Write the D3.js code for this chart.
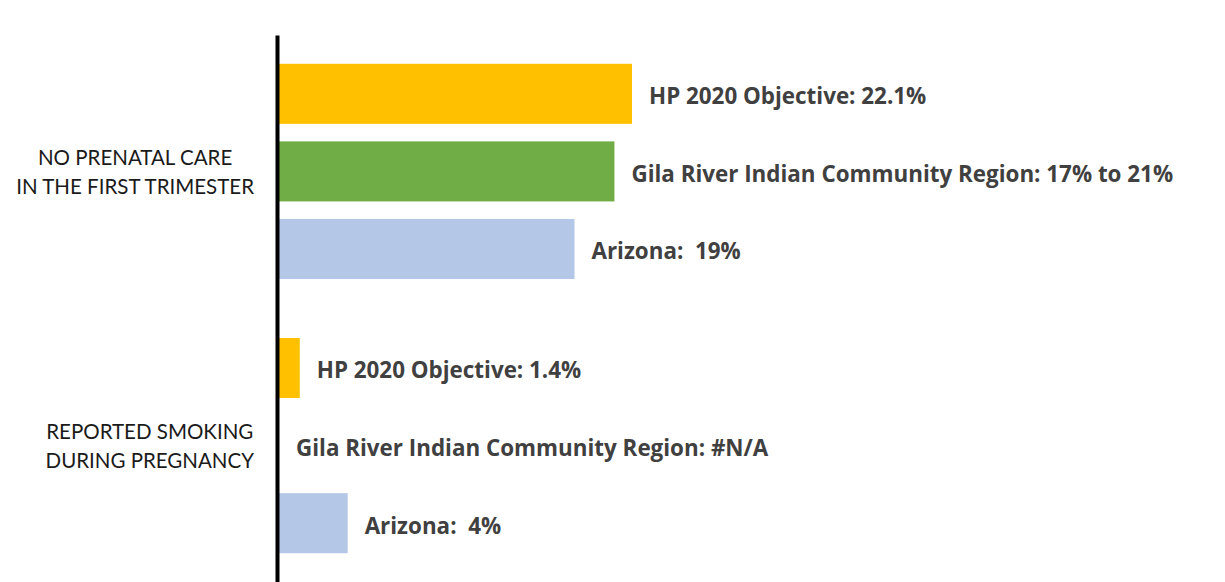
<!DOCTYPE html>
<html>
<head>
<meta charset="utf-8">
<script src="https://cdn.jsdelivr.net/npm/d3@7"></script>
<style>
  body { margin: 0; background: #fff; }
  text { white-space: pre; }
</style>
</head>
<body>
<div id="chart-area"></div>
<script>
var width = 1225;
var height = 582;

var categories = ["NO PRENATAL CARE\nIN THE FIRST TRIMESTER", "REPORTED SMOKING\nDURING PREGNANCY"];
var series = ["HP 2020 Objective", "Gila River Indian Community Region", "Arizona"];
var colors = ["#FFC000", "#70AD47", "#B4C7E7"];

// bar lengths (null = no bar)
var prenatalValues = [22.1, 21, 18.5];
var smokingValues = [1.3, null, 4.3];

// label texts as printed
var prenatalLabels = ["HP 2020 Objective: 22.1%", "Gila River Indian Community Region: 17% to 21%", "Arizona:  19%"];
var smokingLabels = ["HP 2020 Objective: 1.4%", "Gila River Indian Community Region: #N/A", "Arizona:  4%"];

var valuesByCat = [prenatalValues, smokingValues];
var labelsByCat = [prenatalLabels, smokingLabels];

var svg = d3.select("#chart-area").append("svg")
    .attr("width", width)
    .attr("height", height);

var y = d3.scaleBand()
    .domain(categories)
    .range([35, 582])
    .paddingInner(0.215)
    .paddingOuter(0.105);

var ySub = d3.scaleBand()
    .domain(series)
    .range([0, y.bandwidth()])
    .paddingInner(0.226)
    .paddingOuter(0);

var x = d3.scaleLinear()
    .domain([0, 22.1])
    .range([279, 632]);

var groups = svg.selectAll("g.group")
    .data(categories)
    .enter().append("g")
    .attr("class", "group")
    .attr("transform", (d) => "translate(0," + y(d) + ")");

groups.each(function(cat, ci) {
    var g = d3.select(this);
    var rows = series.map((s, i) => ({ s: s, v: valuesByCat[ci][i], label: labelsByCat[ci][i], c: colors[i] }));

    g.selectAll("rect")
        .data(rows.filter((d) => d.v !== null))
        .enter().append("rect")
        .attr("x", x(0))
        .attr("y", (d) => ySub(d.s))
        .attr("width", (d) => x(d.v) - x(0))
        .attr("height", ySub.bandwidth())
        .attr("fill", (d) => d.c);

    g.selectAll("text.val")
        .data(rows)
        .enter().append("text")
        .attr("class", "val")
        .attr("x", (d) => x(d.v || 0) + 17)
        .attr("y", (d) => ySub(d.s) + ySub.bandwidth() / 2 + 2)
        .attr("dominant-baseline", "central")
        .attr("font-family", "'Open Sans', sans-serif")
        .attr("font-weight", "bold")
        .attr("font-size", 22.4)
        .attr("fill", "#404040")
        .text((d) => d.label);

    // category label, centred lines, block right edge near the axis
    var lines = cat.split("\n");
    var t = g.append("text")
        .attr("font-family", "Lato, 'Open Sans', sans-serif")
        .attr("font-size", 20.5)
        .attr("fill", "#1a1a1a")
        .attr("text-anchor", "middle");
    var spans = t.selectAll("tspan")
        .data(lines)
        .enter().append("tspan")
        .attr("y", (d, i) => y.bandwidth() / 2 + (i - (lines.length - 1) / 2) * 29)
        .attr("dominant-baseline", "central")
        .text((d) => d);
    var maxW = 0;
    spans.each(function() { maxW = Math.max(maxW, this.getComputedTextLength()); });
    spans.attr("x", 254 - maxW / 2);
});

// axis line
svg.append("g")
    .attr("transform", "translate(277,0)")
    .call(d3.axisLeft(y).tickSize(0).tickFormat(""))
    .call((a) => a.select(".domain").attr("stroke", "#000").attr("stroke-width", 4));
</script>
</body>
</html>
